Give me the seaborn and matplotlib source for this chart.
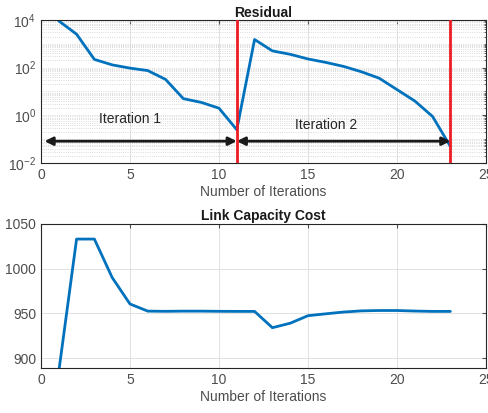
import numpy as np
import pandas as pd
import seaborn as sns
import matplotlib
matplotlib.use("Agg")
import matplotlib.pyplot as plt
from matplotlib.ticker import LogLocator, FixedLocator

# data
iters = list(range(1, 24))
residual = [9000, 2500, 220, 130, 95, 75, 32, 5, 3.5, 2, 0.25,
            1500, 500, 360, 230, 165, 112, 67, 36, 12, 4, 0.9, 0.05]
link_cost = [885, 1033, 1033, 990, 960.5, 952.5, 952.3, 952.5, 952.5, 952.3, 952.2,
             952.2, 934, 939, 947.4, 949.5, 951.5, 952.8, 953.2, 953.2, 952.6, 952.2, 952.2]
restarts = [11, 23]
segments = [(0.2, 11, "Iteration 1", 5.0, 0.7), (11, 23, "Iteration 2", 16.0, 0.4)]

sns.set_style("white")
plt.rcParams["font.family"] = ["Liberation Sans", "DejaVu Sans"]
plt.rcParams["mathtext.fontset"] = "custom"
plt.rcParams["mathtext.rm"] = "Liberation Sans"

blue = "#0072BD"
gray_txt = "#4d4d4d"

df = pd.DataFrame({"iter": iters, "residual": residual, "cost": link_cost})

fig = plt.figure(figsize=(4.89, 4.13), dpi=100)
ax1 = fig.add_axes([0.0838, 0.605, 0.910, 0.347])
ax2 = fig.add_axes([0.0838, 0.109, 0.910, 0.349])


def matlab_style(ax):
    for s in ax.spines.values():
        s.set_color("#262626")
        s.set_linewidth(0.8)
    ax.tick_params(direction="in", length=3, colors=gray_txt, labelsize=10,
                   top=True, right=True, which="both")
    ax.tick_params(which="minor", length=1.5)
    ax.grid(True, which="major", color="#dcdcdc", linewidth=0.6)
    ax.set_axisbelow(True)


# Residual
sns.lineplot(data=df, x="iter", y="residual", ax=ax1, color=blue, linewidth=2)
ax1.set_yscale("log")
ax1.set_xlim(0, 25)
ax1.set_ylim(1e-2, 1e4)
ax1.yaxis.set_major_locator(FixedLocator([1e-2, 1, 1e2, 1e4]))
ax1.yaxis.set_minor_locator(LogLocator(base=10, subs=np.arange(1, 10), numticks=20))
ax1.yaxis.set_minor_formatter(plt.NullFormatter())
matlab_style(ax1)
ax1.grid(True, which="minor", axis="y", color="#cfcfcf", linestyle=":", linewidth=0.6)
ax1.grid(True, which="major", axis="y", color="#cfcfcf", linestyle=":", linewidth=0.6)
for r in restarts:
    ax1.plot([r, r], [1.1e-2, 1e4], color="#ee1c25", linewidth=2, zorder=5)
for x0, x1, label, tx, ty in segments:
    ax1.annotate("", xy=(x1, 0.083), xytext=(x0, 0.083),
                 arrowprops=dict(arrowstyle="<|-|>", color="#1a1a1a", lw=2,
                                 mutation_scale=12, shrinkA=0, shrinkB=0))
    ax1.text(tx, ty, label, ha="center", va="center", fontsize=10, color="#262626")
ax1.set_title("Residual", fontsize=10, fontweight="bold", color="#1a1a1a", pad=2)
ax1.set_xlabel("Number of Iterations", fontsize=10, color=gray_txt, labelpad=2)
ax1.set_ylabel("")

# Link Capacity Cost
sns.lineplot(data=df, x="iter", y="cost", ax=ax2, color=blue, linewidth=2)
ax2.set_xlim(0, 25)
ax2.set_ylim(889, 1050)
ax2.set_yticks([900, 950, 1000, 1050])
matlab_style(ax2)
ax2.set_title("Link Capacity Cost", fontsize=10, fontweight="bold", color="#1a1a1a", pad=3)
ax2.set_xlabel("Number of Iterations", fontsize=10, color=gray_txt, labelpad=2)
ax2.set_ylabel("")

fig.savefig("out.png", dpi=100)
